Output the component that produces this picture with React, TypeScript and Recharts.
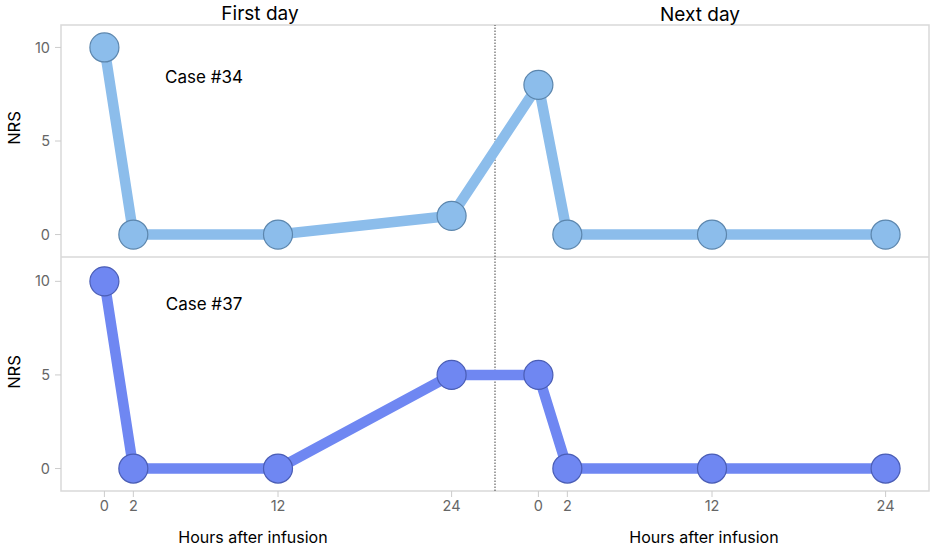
import React from "react";
import { LineChart, Line, XAxis, YAxis, ReferenceLine, ReferenceArea } from "recharts";

// ---- data ----
const firstDayHours = [0, 2, 12, 24];
const nextDayHours = [0, 2, 12, 24];
const NEXT_DAY_OFFSET = 30; // next day's 0 h placed at 30 on the shared time axis
const DAY_BREAK = 27;
const case34First = [10, 0, 0, 1];
const case34Next = [8, 0, 0, 0];
const case37First = [10, 0, 0, 5];
const case37Next = [5, 0, 0, 0];
const yTicks = [0, 5, 10];
const panelTitles = ["First day", "Next day"];
const caseLabels = ["Case #34", "Case #37"];
const xAxisTitle = "Hours after infusion";
const yAxisTitle = "NRS";

const build = (first: number[], next: number[]) => [
  ...firstDayHours.map((h, i) => ({ t: h, v: first[i] })),
  ...nextDayHours.map((h, i) => ({ t: h + NEXT_DAY_OFFSET, v: next[i] })),
];
const data34 = build(case34First, case34Next);
const data37 = build(case37First, case37Next);
const xTicks = [...firstDayHours, ...nextDayHours.map((h) => h + NEXT_DAY_OFFSET)];
const fmtX = (v: number) => String(v >= NEXT_DAY_OFFSET ? v - NEXT_DAY_OFFSET : v);

const X_DOMAIN: [number, number] = [-3, 57];
const FONT = "Inter, 'Noto Sans', sans-serif";
const tickStyle = { fill: "#666", fontSize: 14.5, fontFamily: FONT };

const Txt = ({ x, y, children, size = 16, rotate = 0, color = "#000" }: any) => (
  <div
    style={{
      position: "absolute",
      left: x,
      top: y,
      transform: `translate(-50%, -50%) rotate(${rotate}deg)`,
      fontFamily: FONT,
      fontSize: size,
      color,
      lineHeight: 1,
      whiteSpace: "nowrap",
    }}
  >
    {children}
  </div>
);

const Panel = ({ data, color, dotStroke, height, margin, yDomain, showX }: any) => (
  <LineChart width={935} height={height} data={data} margin={margin}>
    <ReferenceArea
      x1={X_DOMAIN[0]}
      x2={X_DOMAIN[1]}
      y1={yDomain[0]}
      y2={yDomain[1]}
      fill="none"
      stroke="#d9d9d9"
      strokeWidth={1.5}
      ifOverflow="visible"
    />
    <XAxis
      type="number"
      dataKey="t"
      domain={X_DOMAIN}
      allowDataOverflow
      ticks={xTicks}
      interval={0}
      tickFormatter={fmtX}
      hide={!showX}
      height={30}
      axisLine={false}
      tickLine={{ stroke: "#ccc" }}
      tickSize={6}
      tickMargin={4}
      tick={tickStyle}
    />
    <YAxis
      type="number"
      domain={yDomain}
      allowDataOverflow
      ticks={yTicks}
      width={40}
      axisLine={false}
      tickLine={{ stroke: "#ccc" }}
      tickSize={6}
      tickMargin={5}
      tick={tickStyle}
    />
    <ReferenceLine x={DAY_BREAK} stroke="#444" strokeDasharray="1.5 1.5" strokeWidth={1} ifOverflow="visible" />
    <Line
      type="linear"
      dataKey="v"
      stroke={color}
      strokeWidth={10.5}
      dot={{ r: 14.5, fill: color, stroke: dotStroke, strokeWidth: 1.2 }}
      activeDot={false}
      isAnimationActive={false}
    />
  </LineChart>
);

export default function App() {
  return (
    <div style={{ position: "absolute", left: 0, top: 0, width: 935, height: 549, background: "#fff" }}>
      <div style={{ position: "absolute", left: 0, top: 0 }}>
        <Panel
          data={data34}
          color="#8cbdeb"
          dotStroke="#5c86ad"
          height={257}
          margin={{ top: 25, right: 6, bottom: 0, left: 21 }}
          yDomain={[-1.2, 11.2]}
          showX={false}
        />
      </div>
      <div style={{ position: "absolute", left: 0, top: 257 }}>
        <Panel
          data={data37}
          color="#6f87f2"
          dotStroke="#4a5db5"
          height={292}
          margin={{ top: 0, right: 6, bottom: 28, left: 21 }}
          yDomain={[-1.2, 11.3]}
          showX={true}
        />
      </div>
      <Txt x={260} y={13} size={19}>{panelTitles[0]}</Txt>
      <Txt x={700} y={14} size={19}>{panelTitles[1]}</Txt>
      <Txt x={204} y={77} size={17}>{caseLabels[0]}</Txt>
      <Txt x={204} y={304} size={17}>{caseLabels[1]}</Txt>
      <Txt x={14} y={128} size={16.5} rotate={-90}>{yAxisTitle}</Txt>
      <Txt x={14} y={372} size={16.5} rotate={-90}>{yAxisTitle}</Txt>
      <Txt x={253} y={537} size={16}>{xAxisTitle}</Txt>
      <Txt x={704} y={537} size={16}>{xAxisTitle}</Txt>
    </div>
  );
}
